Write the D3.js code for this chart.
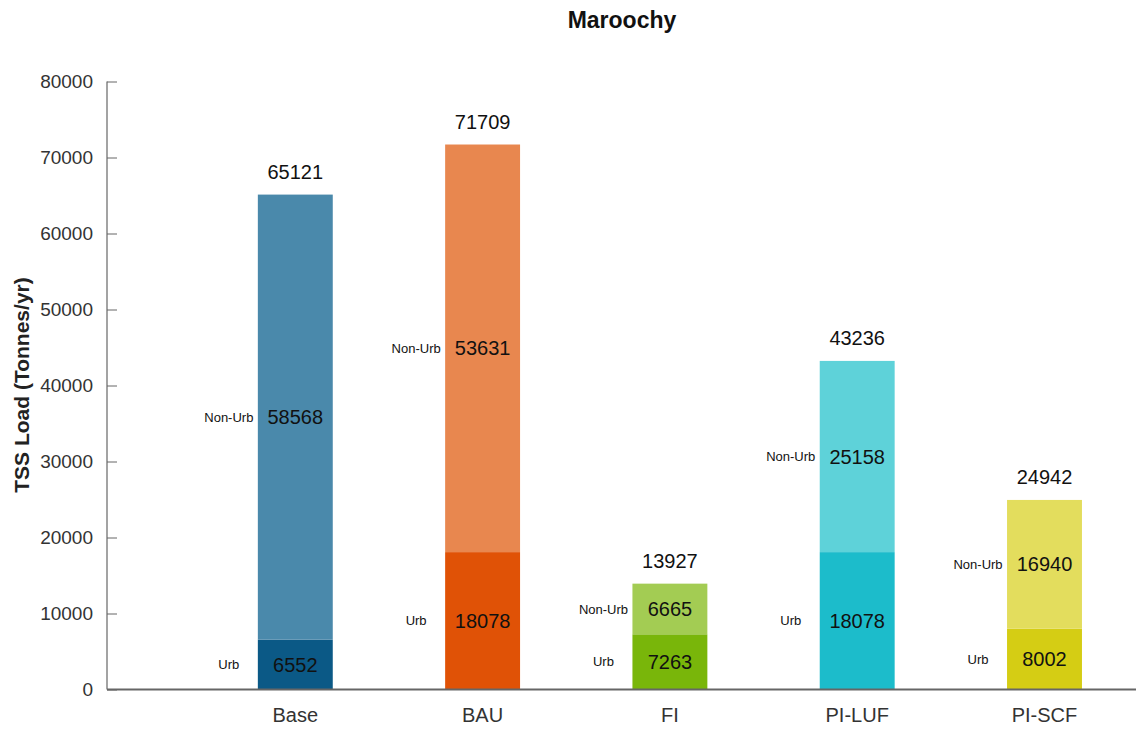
<!DOCTYPE html>
<html><head><meta charset="utf-8">
<script src="https://cdn.jsdelivr.net/npm/d3@7"></script>
<style>body{margin:0;background:#fff}svg{font-family:"Liberation Sans",Arial,sans-serif}</style>
</head><body><svg id="c" width="1136" height="729"></svg>
<script>
const categories = ["Base","BAU","FI","PI-LUF","PI-SCF"];
const urb = [6552,18078,7263,18078,8002];
const nonUrb = [58568,53631,6665,25158,16940];
const totals = [65121,71709,13927,43236,24942];
const urbColors = ["#0b5986","#e05206","#79b60a","#1cbccb","#d5cd14"];
const nonUrbColors = ["#4a89ab","#e8874f","#a3cc53","#5ed2d9","#e3dd5d"];
const yTicks = [0,10000,20000,30000,40000,50000,60000,70000,80000];

const svg = d3.select("#c");
const x0 = 107, y0 = 689.5, yTop = 81.5;
const step = 187.3;
const x = d3.scaleBand().domain(categories).range([108+step/2, 108+step*5.5]).paddingInner(0.6).paddingOuter(0.3);
const y = d3.scaleLinear().domain([0,80000]).range([y0,yTop]);

// y axis
const ya = svg.append("g").attr("transform",`translate(${x0},0)`)
  .call(d3.axisLeft(y).tickValues(yTicks).tickSize(-10).tickPadding(14).tickFormat(d3.format("d")));
ya.select(".domain").remove();
ya.selectAll(".tick line").attr("stroke","#666");
ya.selectAll(".tick text").attr("font-size",19).attr("fill","#333").style("font-family","'Liberation Sans',Arial,sans-serif");
svg.append("line").attr("x1",x0).attr("x2",x0).attr("y1",yTop).attr("y2",y0).attr("stroke","#666").attr("stroke-width",1.2);

const data = categories.map((c,i)=>({c,i,u:urb[i],n:nonUrb[i],t:totals[i]}));
const bw = x.bandwidth();

svg.selectAll(".ub").data(data).join("rect").attr("x",d=>x(d.c)).attr("width",bw)
  .attr("y",d=>y(d.u)).attr("height",d=>y(0)-y(d.u)).attr("fill",d=>urbColors[d.i]);
svg.selectAll(".nb").data(data).join("rect").attr("x",d=>x(d.c)).attr("width",bw)
  .attr("y",d=>y(d.u+d.n)).attr("height",d=>y(d.u)-y(d.u+d.n)).attr("fill",d=>nonUrbColors[d.i]);

// x axis line
svg.append("line").attr("x1",x0).attr("x2",1136).attr("y1",y0).attr("y2",y0).attr("stroke","#666").attr("stroke-width",2);

const g = svg.append("g");
data.forEach(d=>{
  const cx = x(d.c)+bw/2, lx = x(d.c)-29;
  const yu = y(d.u/2), yn = y(d.u+d.n/2);
  g.append("text").attr("x",cx).attr("y",yu).attr("dy","0.35em").attr("text-anchor","middle").attr("font-size",20).attr("fill","#111").text(d.u);
  g.append("text").attr("x",cx).attr("y",yn).attr("dy","0.35em").attr("text-anchor","middle").attr("font-size",20).attr("fill","#111").text(d.n);
  g.append("text").attr("x",lx).attr("y",yu).attr("dy","0.35em").attr("text-anchor","middle").attr("font-size",13).attr("fill","#111").text("Urb");
  g.append("text").attr("x",lx).attr("y",yn).attr("dy","0.35em").attr("text-anchor","middle").attr("font-size",13).attr("fill","#111").text("Non-Urb");
  g.append("text").attr("x",cx).attr("y",y(d.t)-23).attr("dy","0.35em").attr("text-anchor","middle").attr("font-size",20).attr("fill","#111").text(d.t);
  g.append("text").attr("x",cx).attr("y",715).attr("dy","0.35em").attr("text-anchor","middle").attr("font-size",20).attr("fill","#333").text(d.c);
});

svg.append("text").attr("x",622).attr("y",20).attr("dy","0.35em").attr("text-anchor","middle").attr("font-size",23).attr("font-weight","bold").attr("fill","#111").text("Maroochy");
svg.append("text").attr("transform","translate(22,385) rotate(-90)").attr("dy","0.35em").attr("text-anchor","middle").attr("font-size",21).attr("font-weight","bold").attr("fill","#222").text("TSS Load (Tonnes/yr)");
</script></body></html>
